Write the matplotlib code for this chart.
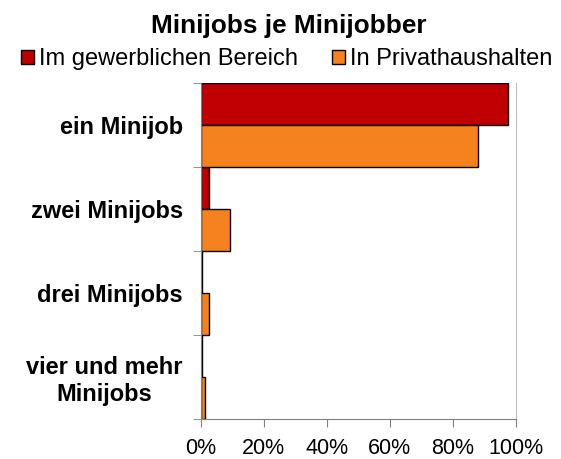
import numpy as np
import matplotlib.pyplot as plt
from matplotlib.patches import Patch
from matplotlib.ticker import FixedLocator, PercentFormatter

plt.rcParams['font.family'] = ['Liberation Sans', 'DejaVu Sans']

# ---- data (share of minijobbers, %) ----
categories = ["ein Minijob", "zwei Minijobs", "drei Minijobs", "vier und mehr\nMinijobs"]
gewerblich = [97.6, 2.5, 0.3, 0.2]
privat = [88.0, 9.1, 2.5, 1.2]
series_names = ["Im gewerblichen Bereich", "In Privathaushalten"]
RED, ORANGE = "#C00000", "#F5821F"

fig = plt.figure(figsize=(5.61, 4.59), dpi=100)
ax = fig.add_axes([201/561, 1-419/459, 314.5/561, 336/459])

y = np.arange(len(categories))
h = 0.5
ax.barh(y - h/2, gewerblich, height=h, color=RED, edgecolor="black", linewidth=1)
ax.barh(y + h/2, privat, height=h, color=ORANGE, edgecolor="black", linewidth=1)

ax.set_xlim(0, 100)
ax.set_ylim(len(categories) - 0.5, -0.5)
ax.set_xticks(np.arange(0, 101, 20))
ax.xaxis.set_major_formatter(PercentFormatter(decimals=0))
ax.tick_params(axis='x', direction='out', length=6, color="#808080", labelsize=15.5, pad=8)

# category labels at centres, ticks at category boundaries
ax.set_yticks(y)
ax.set_yticklabels(categories, fontsize=17, fontweight='bold', multialignment='center')
ax.tick_params(axis='y', which='major', length=0, pad=13)
ax.yaxis.set_minor_locator(FixedLocator(np.arange(len(categories) + 1) - 0.5))
ax.tick_params(axis='y', which='minor', direction='out', length=6, color="#808080")

for s in ["left", "bottom"]:
    ax.spines[s].set_color("#808080")
ax.spines["right"].set_color("#BFBFBF")
ax.spines["top"].set_visible(False)

fig.text(289/561, 1-33/459, "Minijobs je Minijobber", ha='center', va='baseline',
         fontsize=18.8, fontweight='bold')
handles = [Patch(facecolor=RED, edgecolor="black", linewidth=1),
           Patch(facecolor=ORANGE, edgecolor="black", linewidth=1)]
fig.legend(handles, series_names, loc='center', bbox_to_anchor=(287/561, 1-59/459),
           ncol=2, frameon=False, fontsize=17, handlelength=0.55, handleheight=0.55,
           handletextpad=0.2, columnspacing=1.45, borderpad=0, borderaxespad=0)

fig.savefig("out.png", dpi=100)
